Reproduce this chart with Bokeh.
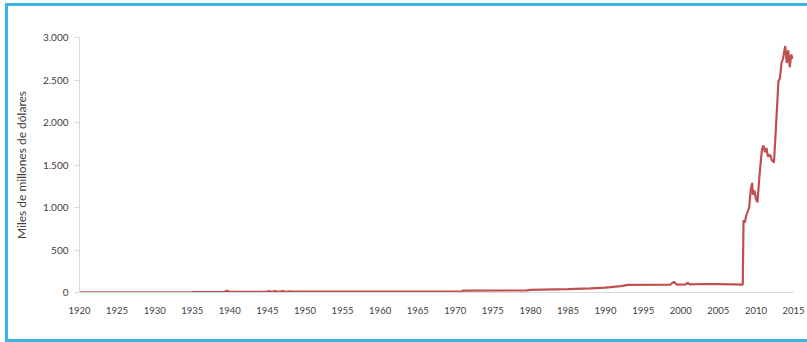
from bokeh.plotting import figure
from bokeh.models import FixedTicker, ColumnDataSource
from bokeh.embed import file_html
from bokeh.resources import INLINE

# Data
years = [1920.0, 1925.0, 1930.0, 1935.0, 1939.3, 1939.6, 1940.0, 1944.8, 1945.2, 1945.6,
         1946.0, 1946.5, 1947.0, 1947.5, 1948.0, 1948.5, 1960.0, 1970.8, 1971.0, 1979.5,
         1980.0, 1985.0, 1988.0, 1990.0, 1992.0, 1993.0, 1998.6, 1999.1, 1999.5, 2000.7,
         2000.9, 2001.2, 2003.0, 2005.0, 2007.0, 2008.25, 2008.35, 2008.5, 2008.7, 2008.9,
         2009.1, 2009.3, 2009.5, 2009.6, 2009.8, 2010.0, 2010.2, 2010.5, 2010.8, 2011.0,
         2011.2, 2011.4, 2011.6, 2011.9, 2012.1, 2012.4, 2012.7, 2013.0, 2013.2, 2013.4,
         2013.6, 2013.9, 2014.1, 2014.3, 2014.5, 2014.7, 2014.9]
values = [3, 3, 3, 4, 8, 20, 8, 8, 16, 8,
          16, 8, 16, 8, 14, 12, 12, 12, 22, 24,
          30, 40, 48, 58, 75, 90, 92, 125, 92, 95,
          115, 95, 100, 98, 95, 92, 850, 820, 900, 950,
          1000, 1200, 1290, 1150, 1200, 1100, 1060, 1400, 1680, 1730,
          1650, 1700, 1600, 1620, 1560, 1530, 2000, 2490, 2520, 2700,
          2750, 2900, 2700, 2850, 2650, 2800, 2750]

x_ticks = list(range(1920, 2016, 5))
x_tick_labels = [str(t) for t in x_ticks]
y_ticks = [0, 500, 1000, 1500, 2000, 2500, 3000]
y_tick_labels = ["0", "500", "1.000", "1.500", "2.000", "2.500", "3.000"]
y_title = "Miles de millones de dólares"

FONT = "Lato"
TXT = "#404040"
AX = "#d9d9d9"

src = ColumnDataSource(dict(x=years, y=values))

p = figure(width=799, height=333, output_backend="svg", toolbar_location=None,
           x_range=(1920, 2015), y_range=(0, 3000),
           min_border_left=71, min_border_right=17, min_border_top=31, min_border_bottom=53)
p.styles = {"margin-left": "5px", "margin-top": "3px",
            "border-left": "3px solid #3CB4E6", "border-top": "3px solid #3CB4E6",
            "border-bottom": "3px solid #3CB4E6", "box-sizing": "content-box"}

p.line("x", "y", source=src, line_color="#C0504D", line_width=2.2)

p.xgrid.visible = False
p.ygrid.visible = False
p.outline_line_color = None
p.background_fill_color = "white"
p.border_fill_color = "white"

p.xaxis.ticker = FixedTicker(ticks=x_ticks)
p.xaxis.major_label_overrides = {t: l for t, l in zip(x_ticks, x_tick_labels)}
p.xaxis.axis_line_color = AX
p.xaxis.major_tick_line_color = None
p.xaxis.minor_tick_line_color = None
p.xaxis.major_label_standoff = 8
p.xaxis.major_label_text_font = FONT
p.xaxis.major_label_text_font_size = "9.5px"
p.xaxis.major_label_text_color = TXT

p.yaxis.ticker = FixedTicker(ticks=y_ticks)
p.yaxis.major_label_overrides = {t: l for t, l in zip(y_ticks, y_tick_labels)}
p.yaxis.axis_line_color = AX
p.yaxis.major_tick_line_color = AX
p.yaxis.major_tick_out = 5
p.yaxis.major_tick_in = 0
p.yaxis.minor_tick_line_color = None
p.yaxis.major_label_standoff = 6
p.yaxis.major_label_text_font = FONT
p.yaxis.major_label_text_font_size = "10px"
p.yaxis.major_label_text_color = TXT
p.yaxis.axis_label = y_title
p.yaxis.axis_label_text_font = FONT
p.yaxis.axis_label_text_font_style = "normal"
p.yaxis.axis_label_text_font_size = "12px"
p.yaxis.axis_label_text_color = TXT
p.yaxis.axis_label_standoff = 11

open("out.html", "w").write(file_html(p, INLINE))
